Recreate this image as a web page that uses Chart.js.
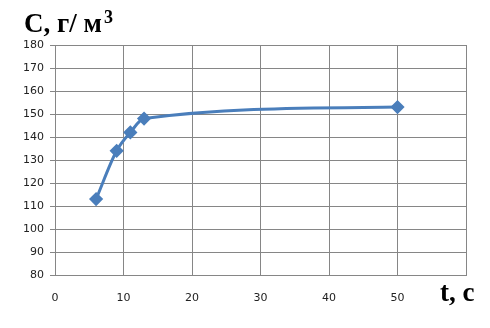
<!DOCTYPE html>
<html>
<head>
<meta charset="utf-8">
<script src="https://cdn.jsdelivr.net/npm/chart.js@4"></script>
<style>
  html, body { margin: 0; padding: 0; background: #fff; }
  #wrap { position: relative; width: 490px; height: 328px; }
  canvas { position: absolute; left: 0; top: 0; }
  .lbl { position: absolute; font-family: "Liberation Serif", "DejaVu Serif", serif; font-weight: bold; color: #000; white-space: nowrap; }
  #ylbl { left: 24px; top: 8px; font-size: 27px; }
  #ylbl sup { font-size: 18px; vertical-align: 0; position: relative; top: -9px; margin-left: 2px; }
  #xlbl { left: 440px; top: 277px; font-size: 27px; }
</style>
</head>
<body>
<div id="wrap">
  <canvas id="chart" width="490" height="328"></canvas>
  <div class="lbl" id="ylbl">C, г/ м<sup>3</sup></div>
  <div class="lbl" id="xlbl">t, c</div>
</div>
<script>
// данные
const tValues = [6, 9, 11, 13, 50];
const cValues = [113, 134, 142, 148, 153];
const xTicks = [0, 10, 20, 30, 40, 50];

const points = tValues.map((t, i) => ({ x: t, y: cValues[i] }));
const gridColor = '#868686';

new Chart(document.getElementById('chart'), {
  type: 'line',
  data: {
    datasets: [{
      data: points,
      borderColor: '#4a7ebb',
      backgroundColor: '#4a7ebb',
      borderWidth: 3,
      pointStyle: 'rectRot',
      pointRadius: 5,
      pointHoverRadius: 5,
      cubicInterpolationMode: 'monotone'
    }]
  },
  options: {
    responsive: false,
    animation: false,
    layout: { padding: { left: 0, top: 45, right: 24, bottom: 0 } },
    plugins: { legend: { display: false }, tooltip: { enabled: false } },
    scales: {
      x: {
        type: 'linear',
        min: 0,
        max: 60,
        afterFit: s => { s.height = 53; },
        afterBuildTicks: s => { s.ticks = xTicks.map(v => ({ value: v })); },
        grid: { color: gridColor, lineWidth: 1, drawTicks: false },
        border: { color: gridColor, width: 1 },
        ticks: {
          padding: 17,
          color: '#222',
          font: { family: 'DejaVu Sans', size: 11 },
          maxRotation: 0
        }
      },
      y: {
        min: 80,
        max: 180,
        afterFit: s => { s.width = 55; },
        grid: { color: gridColor, lineWidth: 1, tickLength: 5 },
        border: { color: gridColor, width: 1 },
        ticks: {
          stepSize: 10,
          padding: 6,
          color: '#222',
          font: { family: 'DejaVu Sans', size: 11 }
        }
      }
    }
  },
  plugins: [{
    // правая граница области построения (t = 60)
    id: 'rightEdge',
    afterDraw(chart) {
      const { ctx, chartArea } = chart;
      ctx.save();
      ctx.strokeStyle = gridColor;
      ctx.lineWidth = 1;
      ctx.beginPath();
      ctx.moveTo(Math.round(chartArea.right) + 0.5, chartArea.top);
      ctx.lineTo(Math.round(chartArea.right) + 0.5, chartArea.bottom);
      ctx.stroke();
      ctx.restore();
    }
  }]
});
</script>
</body>
</html>
